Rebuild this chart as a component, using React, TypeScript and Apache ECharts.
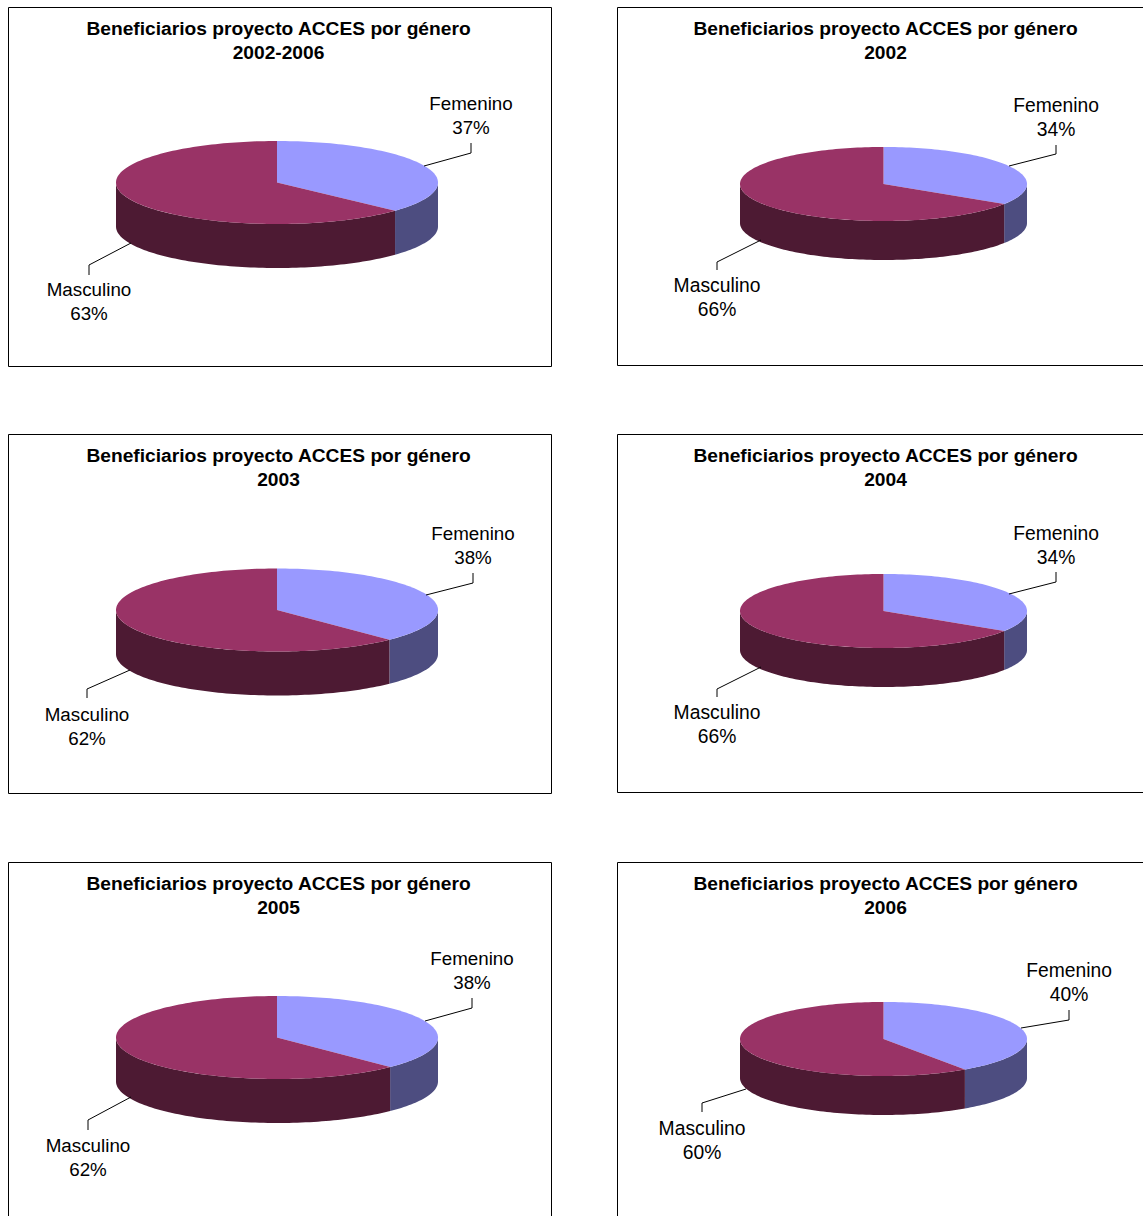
import React, { useEffect, useRef } from "react";
import * as echarts from "echarts";

const titleLine = "Beneficiarios proyecto ACCES por género";
const periods = ["2002-2006", "2002", "2003", "2004", "2005", "2006"];
const categories = ["Femenino", "Masculino"];
const femenino = [36.9, 34.1, 37.7, 34.1, 37.6, 40.4];
const masculino = [63.1, 65.9, 62.3, 65.9, 62.4, 59.6];

const FONT = '"Liberation Sans", Arial, sans-serif';
const topColors = ["#9999FF", "#993366"];
const wallColors = ["#4D4D80", "#4D1A33"];

// Layout of each panel: frame, title anchor, pie geometry, label anchors, leader lines.
const panels = [
  { frame: [8.5, 7.5, 543, 359], titleX: 278.5, titleY: 16, labelSize: 18.8, pie: [277, 182.5, 161, 41.5, 44],
    labels: [[471, 115], [89, 301.5]],
    leaders: [[[424, 166], [471, 153], [471, 143]], [[131, 243], [89, 265], [89, 275]]] },
  { frame: [617.5, 7.5, 700, 358], titleX: 885.5, titleY: 16, labelSize: 19.3, pie: [883.5, 184, 143.5, 37, 39],
    labels: [[1056, 117], [717, 297]],
    leaders: [[[1009, 166], [1056, 154], [1056, 145]], [[761, 240], [717, 262], [717, 270]]] },
  { frame: [8.5, 434.5, 543, 359], titleX: 278.5, titleY: 443, labelSize: 18.8, pie: [277, 610, 161, 41.5, 44],
    labels: [[473, 545.5], [87, 726]],
    leaders: [[[426, 595], [473, 583], [473, 573]], [[130, 670], [87, 689], [87, 698]]] },
  { frame: [617.5, 434.5, 700, 358], titleX: 885.5, titleY: 443, labelSize: 19.3, pie: [883.5, 611, 143.5, 37, 39],
    labels: [[1056, 545], [717, 724]],
    leaders: [[[1009, 594], [1056, 582], [1056, 572]], [[761, 667], [717, 689], [717, 697]]] },
  { frame: [8.5, 862.5, 543, 400], titleX: 278.5, titleY: 871, labelSize: 18.8, pie: [277, 1037.5, 161, 41.5, 44],
    labels: [[472, 970], [88, 1157]],
    leaders: [[[425, 1021], [472, 1008], [472, 998]], [[131, 1097], [88, 1120], [88, 1130]]] },
  { frame: [617.5, 862.5, 700, 400], titleX: 885.5, titleY: 871, labelSize: 19.3, pie: [883.5, 1039, 143.5, 37, 39],
    labels: [[1069, 982], [702, 1140]],
    leaders: [[[1021, 1028], [1069, 1020], [1069, 1010]], [[746, 1089], [702, 1103], [702, 1112]]] },
];

function arcPoints(cx: number, cy: number, rx: number, ry: number, from: number, to: number) {
  const pts: number[][] = [];
  const steps = Math.max(2, Math.ceil(Math.abs(to - from) / 1.5));
  for (let i = 0; i <= steps; i++) {
    const a = ((from + ((to - from) * i) / steps) * Math.PI) / 180;
    pts.push([cx + rx * Math.sin(a), cy - ry * Math.cos(a)]);
  }
  return pts;
}

function pieSeries(panelIndex: number) {
  const panel = panels[panelIndex];
  const [cx, cy, rx, ry, depth] = panel.pie;
  const values = [femenino[panelIndex], masculino[panelIndex]];
  const total = values[0] + values[1];
  return {
    type: "custom",
    coordinateSystem: "none",
    silent: true,
    clip: false,
    data: values.map((v, i) => ({ name: categories[i], value: v })),
    renderItem: (params: any, api: any) => {
      const i = params.dataIndex;
      const before = i === 0 ? 0 : values[0];
      const start = (before / total) * 360;
      const end = ((before + api.value(0)) / total) * 360;
      const children: any[] = [];
      const wallFrom = Math.max(start, 90);
      const wallTo = Math.min(end, 270);
      if (wallTo > wallFrom) {
        const upper = arcPoints(cx, cy, rx, ry, wallFrom, wallTo);
        const lower = arcPoints(cx, cy + depth, rx, ry, wallTo, wallFrom);
        children.push({
          type: "polygon",
          shape: { points: upper.concat(lower) },
          style: { fill: wallColors[i] },
        });
      }
      children.push({
        type: "polygon",
        shape: { points: [[cx, cy], ...arcPoints(cx, cy, rx, ry, start, end)] },
        style: { fill: topColors[i] },
      });
      children.push({
        type: "polyline",
        shape: { points: panel.leaders[i] },
        style: { stroke: "#000", lineWidth: 1, fill: "none" },
      });
      children.push({
        type: "text",
        style: {
          x: panel.labels[i][0],
          y: panel.labels[i][1],
          text: `${categories[i]}\n${Math.round(api.value(0))}%`,
          align: "center",
          verticalAlign: "middle",
          font: `${panel.labelSize}px ${FONT}`,
          lineHeight: 24,
          fill: "#000",
        },
      });
      return { type: "group", children };
    },
  };
}

export default function App() {
  const ref = useRef<HTMLDivElement>(null);
  useEffect(() => {
    const chart = echarts.init(ref.current!, undefined, { renderer: "svg" });
    chart.setOption({
      animation: false,
      backgroundColor: "#fff",
      title: panels.map((p, i) => ({
        text: `${titleLine}\n${periods[i]}`,
        left: p.titleX,
        top: p.titleY,
        padding: 0,
        textAlign: "center",
        textStyle: { fontFamily: FONT, fontSize: 19.2, fontWeight: "bold", color: "#000", lineHeight: 24 },
      })),
      graphic: panels.map((p) => ({
        type: "rect",
        silent: true,
        z: -1,
        shape: { x: p.frame[0], y: p.frame[1], width: p.frame[2], height: p.frame[3] },
        style: { fill: "#fff", stroke: "#000", lineWidth: 1 },
      })),
      series: panels.map((_, i) => pieSeries(i)),
    });
    return () => chart.dispose();
  }, []);
  return <div ref={ref} style={{ position: "absolute", left: 0, top: 0, width: 1143, height: 1216, overflow: "hidden" }} />;
}
